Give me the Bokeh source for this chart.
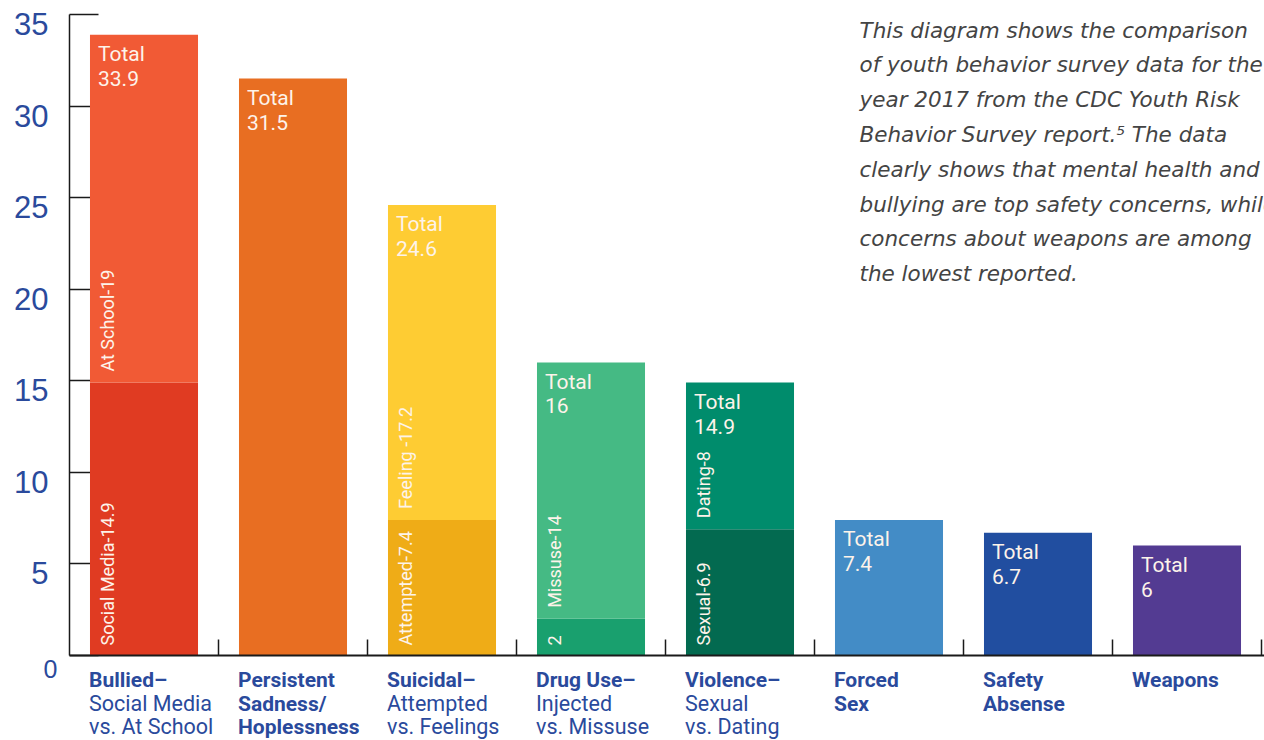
from bokeh.plotting import figure
from bokeh.models import FixedTicker, LinearAxis
from bokeh.core.properties import value
from bokeh.embed import file_html
from bokeh.resources import INLINE
import math

# ---------------- data ----------------
categories = ["Bullied", "Persistent Sadness", "Suicidal", "Drug Use",
              "Violence", "Forced Sex", "Safety Absense", "Weapons"]
totals = [33.9, 31.5, 24.6, 16, 14.9, 7.4, 6.7, 6]
lower_values = [14.9, 31.5, 7.4, 2, 6.9, 7.4, 6.7, 6]
upper_values = [19, 0, 17.2, 14, 8, 0, 0, 0]
lower_labels = ["Social Media-14.9", "", "Attempted-7.4", "2", "Sexual-6.9", "", "", ""]
upper_labels = ["At School-19", "", "Feeling -17.2", "Missuse-14", "Dating-8", "", "", ""]
lower_colors = ["#E03B22", "#E86E22", "#EFAC17", "#19A06E", "#036A50", "#438CC6", "#214EA0", "#533B92"]
upper_colors = ["#F15A35", "#E86E22", "#FECC33", "#45BA84", "#008C6C", "#438CC6", "#214EA0", "#533B92"]
y_ticks = [0, 5, 10, 15, 20, 25, 30, 35]
category_lines = [
    [("Bullied\u2013", True), ("Social Media", False), ("vs. At School", False)],
    [("Persistent", True), ("Sadness/", True), ("Hoplessness", True)],
    [("Suicidal\u2013", True), ("Attempted", False), ("vs. Feelings", False)],
    [("Drug Use\u2013", True), ("Injected", False), ("vs. Missuse", False)],
    [("Violence\u2013", True), ("Sexual", False), ("vs. Dating", False)],
    [("Forced", True), ("Sex", True)],
    [("Safety", True), ("Absense", True)],
    [("Weapons", True)],
]
note_lines = [
    "This diagram shows the comparison",
    "of youth behavior survey data for the",
    "year 2017 from the CDC Youth Risk",
    "Behavior Survey report.\u2075 The data",
    "clearly shows that mental health and",
    "bullying are top safety concerns, while",
    "concerns about weapons are among",
    "the lowest reported.",
]

# ---------------- layout constants (pixels) ----------------
W, H = 1264, 740
LEFT_PX, TOP_PX, BOTTOM_PX = 69, 14, 655
CAT_PX = 149.0
Y_MAX = 35
ppu = (BOTTOM_PX - TOP_PX) / Y_MAX
x_range = (-LEFT_PX / CAT_PX, (W - LEFT_PX) / CAT_PX)
y_range = (-(H - BOTTOM_PX) / ppu, Y_MAX + TOP_PX / ppu)

BAR_W = 0.725
xs = [i + 0.5 for i in range(len(categories))]
lefts = [x - BAR_W / 2 for x in xs]

p = figure(width=W, height=H, x_range=x_range, y_range=y_range,
           output_backend="svg", toolbar_location=None,
           x_axis_type=None, y_axis_type=None,
           min_border=0, min_border_left=0, min_border_right=0,
           min_border_top=0, min_border_bottom=0)
p.outline_line_color = None
p.background_fill_color = "white"
p.border_fill_color = "white"

# axes (fixed at data zero)
AX = "#1a1a1a"
yax = LinearAxis(fixed_location=0, bounds=(0, Y_MAX), ticker=FixedTicker(ticks=y_ticks))
yax.major_label_text_color = None
yax.major_tick_in = 29
yax.major_tick_out = 0
yax.minor_tick_in = 0
yax.minor_tick_out = 0
yax.axis_line_color = AX
yax.axis_line_width = 1.5
yax.major_tick_line_color = AX
yax.major_tick_line_width = 1.5
yax.level = "underlay"
p.add_layout(yax, "left")

xax = LinearAxis(fixed_location=0, bounds=(0, x_range[1]),
                 ticker=FixedTicker(ticks=list(range(1, len(categories) + 1))))
xax.major_label_text_color = None
xax.major_tick_in = 16
xax.major_tick_out = 0
xax.minor_tick_in = 0
xax.minor_tick_out = 0
xax.axis_line_color = AX
xax.axis_line_width = 2
xax.major_tick_line_color = AX
xax.major_tick_line_width = 1.5
p.add_layout(xax, "below")

# bars
p.vbar(x=xs, width=BAR_W, bottom=0, top=lower_values, color=lower_colors, line_color=None)
up_idx = [i for i, v in enumerate(upper_values) if v > 0]
p.vbar(x=[xs[i] for i in up_idx], width=BAR_W,
       bottom=[lower_values[i] for i in up_idx],
       top=[lower_values[i] + upper_values[i] for i in up_idx],
       color=[upper_colors[i] for i in up_idx], line_color=None)

TXT = "#FDF3EA"
COND = value("Roboto")
# Total labels
p.text(x=lefts, y=totals, text=["Total"] * len(totals), x_offset=8, y_offset=19.5,
       text_font=COND, text_font_size="21px", text_color=TXT,
       text_align="left", text_baseline="alphabetic")
p.text(x=lefts, y=totals, text=[("%g" % t) for t in totals], x_offset=8, y_offset=43.5,
       text_font=COND, text_font_size="21px", text_color=TXT,
       text_align="left", text_baseline="alphabetic")

# rotated segment labels
li = [i for i, s in enumerate(lower_labels) if s]
p.text(x=[lefts[i] for i in li], y=[0] * len(li), text=[lower_labels[i] for i in li],
       angle=math.pi / 2, x_offset=18, y_offset=-10,
       text_font=COND, text_font_size="18px", text_color=TXT,
       text_align="left", text_baseline="middle")
ui = [i for i, s in enumerate(upper_labels) if s]
p.text(x=[lefts[i] for i in ui], y=[lower_values[i] for i in ui], text=[upper_labels[i] for i in ui],
       angle=math.pi / 2, x_offset=18, y_offset=-11,
       text_font=COND, text_font_size="18px", text_color=TXT,
       text_align="left", text_baseline="middle")

# y tick labels
BLUE = "#2A4A9C"
nz = [t for t in y_ticks if t != 0]
p.text(x=[0] * len(nz), y=nz, text=[str(t) for t in nz], x_offset=-21, y_offset=9.5,
       text_font=value("Liberation Sans"), text_font_size="31px", text_color=BLUE,
       text_align="right", text_baseline="alphabetic")
p.text(x=[0], y=[0], text=["0"], x_offset=-12, y_offset=13,
       text_font=value("Liberation Sans"), text_font_size="25px", text_color=BLUE,
       text_align="right", text_baseline="alphabetic")

# category labels
line_offsets = [24, 48, 71]
for bold in (True, False):
    bx, by, bt, bo = [], [], [], []
    for i, lines in enumerate(category_lines):
        for j, (s, b) in enumerate(lines):
            if b == bold:
                bx.append(lefts[i]); by.append(0); bt.append(s); bo.append(line_offsets[j])
    for off in sorted(set(bo)):
        sel = [k for k in range(len(bt)) if bo[k] == off]
        p.text(x=[bx[k] for k in sel], y=[by[k] for k in sel], text=[bt[k] for k in sel],
               x_offset=-1, y_offset=off,
               text_font=value("Roboto"),
               text_font_size="21px" if bold else "21.5px",
               text_font_style="bold" if bold else "normal",
               text_color=BLUE, text_align="left", text_baseline="alphabetic")

# note paragraph
p.text(x=[0] * len(note_lines), y=[Y_MAX] * len(note_lines), text=note_lines,
       x_offset=790, y_offset=[15.5 + 34.8 * k for k in range(len(note_lines))],
       text_font=value("DejaVu Sans"), text_font_size="21.5px", text_font_style="italic",
       text_color="#444444", text_align="left", text_baseline="alphabetic")

open("out.html", "w").write(file_html(p, INLINE))
